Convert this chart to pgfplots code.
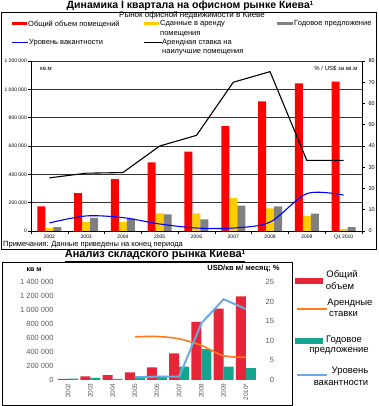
\documentclass[border=0pt]{standalone}
\usepackage{pgfplots}
\pgfplotsset{compat=1.18}
\usepackage{fontspec}
\setmainfont{Liberation Sans}
\pgfplotsset{/pgf/number format/assume math mode=true}
\definecolor{tred}{HTML}{FF0000}
\definecolor{tyel}{HTML}{FFCC00}
\definecolor{tgray}{HTML}{808080}
\definecolor{tblue}{HTML}{0000FF}
\definecolor{bred}{HTML}{E62538}
\definecolor{bteal}{HTML}{14A58C}
\definecolor{borange}{HTML}{FF7A1A}
\definecolor{bblue}{HTML}{6AAAE2}
\definecolor{labgray}{HTML}{595959}
\begin{document}
\begin{tikzpicture}[x=1pt,y=1pt]
\path[use as bounding box] (0pt,0pt) rectangle (378pt,406pt);
% frames
\draw[line width=0.8pt] (1.5pt,157pt) rectangle (376.5pt,394pt);
\draw[line width=0.8pt] (2pt,1pt) rectangle (292pt,144pt);
% top title and legend
\node[inner sep=0pt, font=\bfseries\fontsize{10.5}{12}\selectfont] at (190pt,400pt) {Динамика I квартала на офисном рынке Киева{\fontsize{6}{6}\selectfont\raisebox{3pt}{1}}};
\node[inner sep=0pt, font=\fontsize{8}{9}\selectfont] at (192pt,391pt) {Рынок офисной недвижимости в Киеве};
\begin{scope}[every node/.style={anchor=west, inner sep=0pt, font=\fontsize{7.5}{9}\selectfont}]
\fill[tred] (12pt,380.5pt) rectangle (27pt,383.5pt);
\node at (28pt,382pt) {Общий объем помещений};
\fill[tyel] (144pt,380.5pt) rectangle (159pt,383.5pt);
\node at (160pt,382pt) {Сданные в аренду};
\node at (160pt,372pt) {помещения};
\fill[tgray] (277pt,380.5pt) rectangle (293pt,383.5pt);
\node at (294pt,382pt) {Годовое предложение};
\draw[tblue, line width=1pt] (12pt,363pt) -- (28pt,363pt);
\node at (29pt,363pt) {Уровень вакантности};
\draw[black, line width=1pt] (144pt,363pt) -- (162pt,363pt);
\node at (162pt,363pt) {Арендная ставка на};
\node at (162pt,354pt) {наилучшие помещения};
\node at (3pt,161pt) {Примечания: Данные приведены на конец периода};
\end{scope}
\node[font=\fontsize{6}{7}\selectfont] at (46pt,337pt) {кв.м};
\node[font=\fontsize{6}{7}\selectfont, anchor=east] at (361pt,338pt) {\% / US\$ за кв.м};
% top chart, left axis (bars)
\begin{axis}[
  at={(31pt,175pt)}, anchor=south west, scale only axis,
  width=331pt, height=170pt,
  xmin=-0.5, xmax=8.5, ymin=0, ymax=1200000,
  axis y line*=left, axis x line*=bottom,
  scaled y ticks=false,
  ytick={0,200000,400000,600000,800000,1000000,1200000},
  yticklabels={\mbox{0},\mbox{200 000},\mbox{400 000},\mbox{600 000},\mbox{800 000},\mbox{1 000 000},\mbox{1 200 000}},
  yticklabel style={inner sep=1pt},
  ymajorgrids, grid style={black!80, line width=0.5pt},
  xtick={-0.5,0.5,...,8.5}, xticklabels={},
  extra x ticks={0,1,2,3,4,5,6,7,8},
  extra x tick labels={\mbox{2002},\mbox{2003},\mbox{2004},\mbox{2005},\mbox{2006},\mbox{2007},\mbox{2008},\mbox{2009},\mbox{Q1 2010}},
  extra x tick style={major tick length=0pt},
  tick align=outside, major tick length=3pt,
  tick style={black, line width=0.5pt},
  ticklabel style={font=\fontsize{5}{6}\selectfont},
  axis line style={line width=0.6pt},
]
\addplot[ybar, bar width=8pt, bar shift=-8pt, fill=tred, draw=none] coordinates {
(0,174000) (1,268000) (2,367000) (3,485000) (4,560000) (5,741000) (6,915000) (7,1042000) (8,1054000)};
\addplot[ybar, bar width=8pt, bar shift=0pt, fill=tyel, draw=none] coordinates {
(0,21000) (1,63000) (2,63000) (3,125000) (4,125000) (5,233000) (6,160000) (7,106000) (8,14000)};
\addplot[ybar, bar width=8pt, bar shift=8pt, fill=tgray, draw=none] coordinates {
(0,28000) (1,92000) (2,87000) (3,118000) (4,82000) (5,179000) (6,174000) (7,122000) (8,28000)};
\end{axis}
% top chart, right axis (lines)
\begin{axis}[
  at={(31pt,175pt)}, anchor=south west, scale only axis,
  width=331pt, height=170pt,
  xmin=-0.5, xmax=8.5, ymin=0, ymax=80,
  axis y line*=right, axis x line=none,
  ytick={0,10,20,30,40,50,60,70,80},
  tick align=outside, major tick length=3pt,
  tick style={black, line width=0.5pt},
  ticklabel style={font=\fontsize{5.5}{6}\selectfont},
  axis line style={line width=0.6pt},
]
\addplot[black, line width=1.1pt] coordinates {
(0,25) (1,27.2) (2,27.5) (3,40) (4,45) (5,70) (6,75) (7,33.2) (8,33.2)};
\addplot[tblue, line width=1.1pt, smooth] coordinates {
(0,3.8) (1,7.1) (2,6.3) (3,3.3) (4,1.4) (5,1.4) (6,4.2) (7,17.6) (8,16.9)};
\end{axis}
% bottom title
\node[inner sep=0pt, font=\bfseries\fontsize{11}{12}\selectfont] at (155pt,150.5pt) {\underline{Анализ складского рынка Киева{\fontsize{6}{6}\selectfont\raisebox{3pt}{1}}}};
\node[font=\bfseries\fontsize{7}{8}\selectfont] at (34pt,136pt) {кв м};
\node[font=\bfseries\fontsize{7.5}{9}\selectfont, anchor=east] at (283pt,137pt) {USD/кв м/ месяц; \%};
% bottom legend
\begin{scope}[every node/.style={inner sep=0pt, font=\fontsize{9.5}{11}\selectfont}]
\fill[bred] (295pt,122pt) rectangle (323pt,128pt);
\node at (342pt,131pt) {Общий};
\node at (340pt,120pt) {объем};
\draw[borange, line width=1.8pt] (297pt,97pt) -- (327pt,97pt);
\node at (350pt,103pt) {Арендные};
\node at (343.5pt,92pt) {ставки};
\fill[bteal] (295pt,62pt) rectangle (323pt,68pt);
\node at (344pt,66pt) {Годовое};
\node at (339pt,55pt) {предложение};
\draw[bblue, line width=2pt] (297pt,31pt) -- (327pt,31pt);
\node at (350pt,35pt) {Уровень};
\node at (341pt,23pt) {вакантности};
\end{scope}
% bottom chart, left axis (bars)
\begin{axis}[
  at={(57pt,26pt)}, anchor=south west, scale only axis,
  width=200pt, height=98pt,
  xmin=-0.5, xmax=8.5, ymin=0, ymax=1400000,
  axis y line*=left, axis x line*=bottom,
  axis line style={draw=none}, major tick length=0pt,
  scaled y ticks=false,
  ytick={0,200000,400000,600000,800000,1000000,1200000,1400000},
  yticklabels={\mbox{0},\mbox{200 000},\mbox{400 000},\mbox{600 000},\mbox{800 000},\mbox{1 000 000},\mbox{1 200 000},\mbox{1 400 000}},
  yticklabel style={font=\fontsize{7.5}{9}\selectfont, text=labgray},
  xtick={0,1,2,3,4,5,6,7,8},
  xticklabels={\mbox{2002},\mbox{2003},\mbox{2004},\mbox{2005},\mbox{2006},\mbox{2007},\mbox{2008},\mbox{2009},\mbox{2010*}},
  xticklabel style={rotate=90, anchor=east, font=\fontsize{6.5}{7}\selectfont, text=labgray},
]
\addplot[ybar, bar width=10pt, bar shift=-5pt, fill=bred, draw=none] coordinates {
(0,15000) (1,50000) (2,70000) (3,110000) (4,180000) (5,380000) (6,830000) (7,1020000) (8,1195000)};
\addplot[ybar, bar width=10pt, bar shift=5pt, fill=bteal, draw=none] coordinates {
(0,20000) (1,30000) (2,15000) (3,50000) (4,60000) (5,190000) (6,440000) (7,190000) (8,170000)};
\end{axis}
% bottom chart, right axis (lines)
\begin{axis}[
  at={(57pt,26pt)}, anchor=south west, scale only axis,
  width=200pt, height=98pt,
  xmin=-0.5, xmax=8.5, ymin=0, ymax=25,
  axis y line*=right, axis x line=none,
  axis line style={draw=none}, major tick length=0pt,
  ytick={0,5,10,15,20,25},
  yticklabel style={font=\fontsize{7.5}{9}\selectfont, text=labgray, anchor=west, text width=10pt, align=right, xshift=3.5pt},
]
\addplot[borange, line width=1.6pt, smooth] coordinates {
(3,11) (4,11.1) (5,10.5) (6,8.8) (7,6.2) (8,5.8)};
\addplot[bblue, line width=2pt] coordinates {
(3,0.7) (4,0.85) (5,0.85) (6,14.5) (7,20.6) (8,18.1)};
\end{axis}
\end{tikzpicture}
\end{document}
